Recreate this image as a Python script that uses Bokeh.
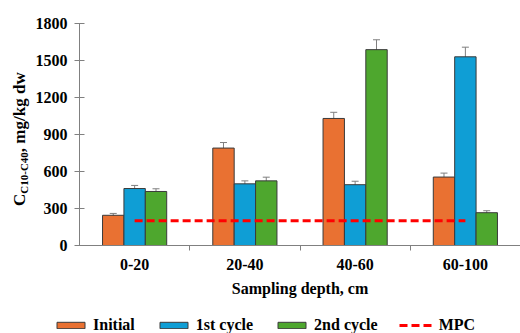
import numpy as np
from bokeh.plotting import figure
from bokeh.layouts import row, column
from bokeh.models import (ColumnDataSource, Range1d, FixedTicker, Whisker, TeeHead,
                          Legend, LegendItem, Div)
from bokeh.embed import file_html
from bokeh.resources import INLINE

categories = ["0-20", "20-40", "40-60", "60-100"]
initial = [245, 790, 1030, 555]
initial_err = [15, 45, 50, 32]
cycle1 = [462, 500, 493, 1530]
cycle1_err = [25, 24, 28, 78]
cycle2 = [438, 524, 1588, 266]
cycle2_err = [22, 30, 80, 16]
mpc = 200
y_ticks = [0, 300, 600, 900, 1200, 1500, 1800]
series_names = ["Initial", "1st cycle", "2nd cycle"]
mpc_name = "MPC"
y_title_main = "C"
y_title_sub = "C10-C40"
y_title_rest = ", mg/kg dw"

colors = ["#E97132", "#0F9ED5", "#4EA72E"]
FONT = "Liberation Serif"
bw = 0.194
idx = np.arange(len(categories))
centers = idx + 0.5

LW = 32        # width of the y-title strip
PH = 300       # main plot height
LH = 333 - PH  # legend strip height
FB = 245       # page y of the plot frame bottom
FT = 23        # page y of the plot frame top

p = figure(width=520 - LW, height=PH, output_backend="svg", toolbar_location=None,
           x_range=Range1d(0, len(categories)), y_range=Range1d(0, 1800),
           min_border_left=77 - LW, min_border_right=0, min_border_top=FT,
           min_border_bottom=PH - FB)
p.outline_line_color = None
p.xgrid.grid_line_color = None
p.ygrid.grid_line_color = None

data = [(initial, initial_err), (cycle1, cycle1_err), (cycle2, cycle2_err)]
for k, ((vals, errs), col) in enumerate(zip(data, colors)):
    x = centers + (k - 1) * bw
    src = ColumnDataSource(dict(x=x, top=vals, lo=np.array(vals) - np.array(errs),
                                hi=np.array(vals) + np.array(errs)))
    p.vbar(x="x", top="top", bottom=0, width=bw, source=src, fill_color=col,
           line_color="#3a3a3a", line_width=1)
    p.add_layout(Whisker(base="x", lower="lo", upper="hi", source=src, line_color="#7f7f7f",
                         line_width=1,
                         upper_head=TeeHead(size=7, line_color="#7f7f7f", line_width=1),
                         lower_head=TeeHead(size=7, line_color="#7f7f7f", line_width=1)))

mx = centers[[0, -1]]
p.line(x=mx, y=[mpc, mpc], line_color="#FF0000", line_width=3, line_dash="8 4")

# axes
xa = p.xaxis[0]
xa.ticker = FixedTicker(ticks=list(centers), minor_ticks=list(idx[1:]))
xa.major_label_overrides = {float(c): cat for c, cat in zip(centers, categories)}
xa.major_tick_line_color = None
xa.major_tick_out = 0
xa.major_tick_in = 0
xa.minor_tick_out = 5
xa.minor_tick_in = 0
xa.minor_tick_line_color = "#808080"
xa.axis_line_color = "#808080"
xa.major_label_standoff = 8
xa.major_label_text_font = FONT
xa.major_label_text_font_style = "bold"
xa.major_label_text_font_size = "16px"
xa.major_label_text_color = "#000000"
xa.axis_label = "Sampling depth, cm"
xa.axis_label_text_font = FONT
xa.axis_label_text_font_style = "bold"
xa.axis_label_text_font_size = "16px"
xa.axis_label_text_color = "#000000"
xa.axis_label_standoff = 7

ya = p.yaxis[0]
ya.ticker = FixedTicker(ticks=y_ticks)
ya.minor_tick_line_color = None
ya.major_tick_in = 5
ya.major_tick_out = 5
ya.major_tick_line_color = "#808080"
ya.axis_line_color = "#808080"
ya.major_label_standoff = 7
ya.major_label_text_font = FONT
ya.major_label_text_font_style = "bold"
ya.major_label_text_font_size = "16px"
ya.major_label_text_color = "#000000"

# y-axis title with a real subscript, set vertically with CSS
title_html = (
    '<div style="writing-mode:vertical-rl; transform:rotate(180deg); '
    'height:222px; margin-top:28px; margin-left:10px; width:20px; line-height:20px; '
    'text-align:center; white-space:nowrap; color:#000; '
    "font-family:'Liberation Serif'; font-weight:bold; font-size:17px;\">"
    f'{y_title_main}<sub style="font-size:11px">{y_title_sub}</sub>{y_title_rest}</div>'
)
ytitle = Div(text=title_html, width=LW, height=PH, margin=0)

# legend strip (renderers hidden, they only feed the legend)
lg = figure(width=520, height=LH, output_backend="svg", toolbar_location=None,
            x_range=Range1d(0, len(categories)), y_range=Range1d(0, 1800),
            min_border=0, x_axis_location=None, y_axis_location=None)
lg.outline_line_color = None
lg.xgrid.grid_line_color = None
lg.ygrid.grid_line_color = None
items = []
for name, (vals, errs), col in zip(series_names, data, colors):
    r = lg.vbar(x=centers, top=vals, width=bw, fill_color=col, line_color="#3a3a3a",
                line_width=1, visible=False)
    items.append(LegendItem(label=name, renderers=[r]))
r = lg.line(x=mx, y=[mpc, mpc], line_color="#FF0000", line_width=3, line_dash="8 4",
            visible=False)
items.append(LegendItem(label=mpc_name, renderers=[r]))
legend = Legend(items=items, orientation="horizontal", location=(53, -1),
                padding=0, margin=0, spacing=21, label_standoff=5,
                glyph_width=35, glyph_height=8, border_line_color=None,
                background_fill_alpha=0, inactive_fill_alpha=0,
                label_text_font=FONT, label_text_font_style="bold",
                label_text_font_size="16px", label_text_color="#000000")
lg.add_layout(legend, "center")

layout = column(row(ytitle, p, spacing=0), lg, spacing=0)
open("out.html", "w").write(file_html(layout, INLINE))
